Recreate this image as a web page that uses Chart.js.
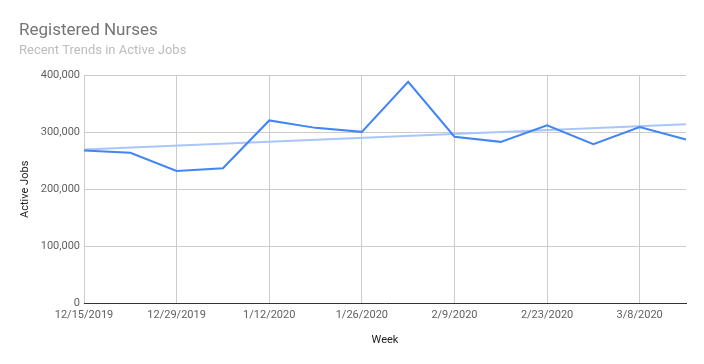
<!DOCTYPE html>
<html>
<head>
<meta charset="utf-8">
<script src="https://cdn.jsdelivr.net/npm/chart.js@4/dist/chart.umd.min.js"></script>
<style>
  html, body { margin: 0; padding: 0; background: #fff; }
  #wrap { width: 704px; height: 364px; }
</style>
</head>
<body>
<div id="wrap"><canvas id="c" width="704" height="364"></canvas></div>
<script>
// weekly data
const weeks = ['12/15/2019','12/22/2019','12/29/2019','1/5/2020','1/12/2020','1/19/2020','1/26/2020',
               '2/2/2020','2/9/2020','2/16/2020','2/23/2020','3/1/2020','3/8/2020','3/15/2020'];
const activeJobs = [268000, 264000, 232000, 237000, 320500, 307500, 300500,
                    388000, 292000, 283000, 312000, 279000, 309000, 287000];
// trend line end points (first and last week)
const trendStart = 269600;
const trendEnd = 314000;
const yTicks = [0, 100000, 200000, 300000, 400000];

const trend = weeks.map((w, i) => i === 0 ? trendStart : i === weeks.length - 1 ? trendEnd : null);

const font = 'Roboto, "Noto Sans", sans-serif';

new Chart(document.getElementById('c'), {
  type: 'line',
  data: {
    labels: weeks,
    datasets: [
      { label: 'Active Jobs', data: activeJobs, borderColor: '#4285f4', borderWidth: 2,
        pointRadius: 0, tension: 0, order: 1 },
      { label: 'Trend', data: trend, spanGaps: true, borderColor: '#a9c6fa', borderWidth: 2,
        pointRadius: 0, tension: 0, order: 2 }
    ]
  },
  options: {
    responsive: false,
    animation: false,
    layout: { padding: { left: 19, right: 18, top: 0, bottom: 17 } },
    plugins: {
      legend: { display: false },
      tooltip: { enabled: false },
      title: {
        display: true, text: 'Registered Nurses', align: 'start', color: '#757575',
        font: { family: font, size: 17, weight: 'normal' }, padding: { top: 21, bottom: 2 }
      },
      subtitle: {
        display: true, text: 'Recent Trends in Active Jobs', align: 'start', color: '#bdbdbd',
        font: { family: font, size: 13, weight: 'normal' }, padding: { top: 0, bottom: 16 }
      }
    },
    scales: {
      x: {
        offset: false,
        grid: {
          color: ctx => (ctx.index % 2 === 0 ? '#cccccc' : 'rgba(0,0,0,0)'),
          drawTicks: false
        },
        border: { color: '#333333', width: 1 },
        ticks: {
          autoSkip: false, maxRotation: 0, padding: 5, color: '#5f5f5f',
          font: { family: font, size: 11 },
          callback: (v, i) => (i % 2 === 0 ? weeks[i] : '')
        },
        title: { display: true, text: 'Week', color: '#222222', font: { family: font, size: 11 },
                 padding: { top: 7, bottom: 0 } }
      },
      y: {
        min: 0, max: 400000,
        afterBuildTicks: s => { s.ticks = yTicks.map(v => ({ value: v })); },
        afterFit: s => { s.width = 65; },
        grid: { color: '#cccccc', drawTicks: false },
        border: { display: false },
        ticks: {
          padding: 4, color: '#5f5f5f', font: { family: font, size: 11 },
          callback: v => v.toLocaleString('en-US')
        },
        title: { display: true, text: 'Active Jobs', color: '#222222', font: { family: font, size: 11 },
                 padding: { top: 0, bottom: 14 } }
      }
    }
  }
});
</script>
</body>
</html>
